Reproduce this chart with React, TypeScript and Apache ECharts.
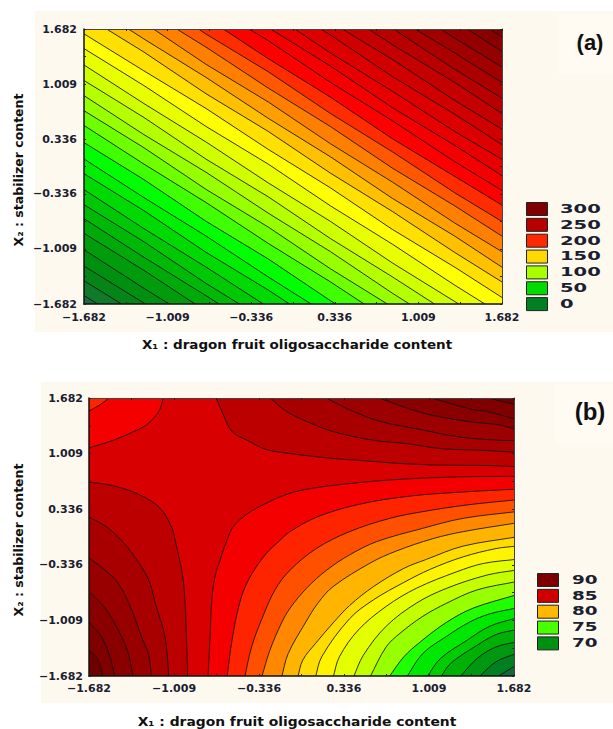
import React, { useEffect, useRef } from "react";
import * as echarts from "echarts";

const tickValues = [-1.682, -1.009, -0.336, 0.336, 1.009, 1.682];
const tickLabels = ["\u22121.682", "\u22121.009", "\u22120.336", "0.336", "1.009", "1.682"];
const tickMarks = [-1.682, -1.3455, -1.009, -0.6725, -0.336, 0, 0.336, 0.6725, 1.009, 1.3455, 1.682];
const xTitle = "X\u2081 : dragon fruit oligosaccharide content";
const yTitle = "X\u2082 : stabilizer content";
const legendA = ["300", "250", "200", "150", "100", "50", "0"];
const legendB = ["90", "85", "80", "75", "70"];
const legendAColors = ["#800000", "#b80000", "#ff2800", "#ffd800", "#a8ff00", "#00dc00", "#008020"];
const legendBColors = ["#7c0000", "#d00000", "#ffb800", "#48ff00", "#009010"];

// Panel (a): X2 at these X1 stations, lowest contour first.
const aStations = [-1.69, -1.2, -0.7, -0.2, 0.3, 0.8, 1.3, 1.69];
const aContours = [
  [-1.57, -2.04],
  [-1.39, -1.85],
  [-1.21, -1.67, -2.17],
  [-1.01, -1.49, -1.96],
  [-0.81, -1.27, -1.77],
  [-0.63, -1.11, -1.58, -2.07],
  [-0.46, -0.92, -1.43, -1.9],
  [-0.275, -0.76, -1.23, -1.72],
  [-0.08, -0.54, -1.05, -1.51, -2.01],
  [0.1, -0.38, -0.85, -1.35, -1.83],
  [0.3, -0.16, -0.67, -1.13, -1.64, -2.12],
  [0.51, 0.03, -0.44, -0.94, -1.41, -1.91],
  [0.69, 0.23, -0.28, -0.74, -1.25, -1.72],
  [0.875, 0.39, -0.07, -0.57, -1.04, -1.55, -2.03],
  [1.06, 0.6, 0.09, -0.37, -0.88, -1.35, -1.84],
  [1.25, 0.77, 0.3, -0.2, -0.67, -1.18, -1.65, -2.02],
  [1.45, 0.99, 0.49, 0.03, -0.48, -0.95, -1.45, -1.82],
  [1.63, 1.17, 0.71, 0.21, -0.26, -0.77, -1.23, -1.61],
  [1.86, 1.4, 0.89, 0.43, -0.08, -0.55, -1.05, -1.42],
  [2.04, 1.56, 1.09, 0.59, 0.12, -0.39, -0.85, -1.24],
  [2.22, 1.76, 1.25, 0.79, 0.28, -0.19, -0.69, -1.05],
  [2.41, 1.93, 1.46, 0.96, 0.49, -0.02, -0.48, -0.86],
  [2.59, 2.13, 1.62, 1.16, 0.65, 0.18, -0.32, -0.68],
  [2.77, 2.29, 1.82, 1.32, 0.85, 0.34, -0.12, -0.48],
  [2.97, 2.51, 2.0, 1.54, 1.03, 0.56, 0.06, -0.3],
  [3.15, 2.67, 2.2, 1.7, 1.23, 0.72, 0.26, -0.12],
  [3.33, 2.87, 2.36, 1.9, 1.39, 0.92, 0.43, 0.08],
  [3.53, 3.05, 2.58, 2.08, 1.61, 1.1, 0.64, 0.26],
  [3.71, 3.25, 2.74, 2.28, 1.77, 1.31, 0.81, 0.45],
  [3.91, 3.43, 2.96, 2.46, 1.99, 1.49, 1.03, 0.64],
  [4.09, 3.63, 3.12, 2.66, 2.15, 1.69, 1.19, 0.83],
  [4.27, 3.79, 3.32, 2.83, 2.36, 1.85, 1.39, 1.02],
  [4.47, 4.01, 3.5, 3.04, 2.54, 2.07, 1.57, 1.21],
  [4.67, 4.19, 3.72, 3.22, 2.75, 2.24, 1.78, 1.4],
  [4.85, 4.39, 3.88, 3.42, 2.91, 2.44, 1.94, 1.58],
];
const aBaseColor = "#1b6a40";
const aColors = [
  "#0f7a2a", "#058518", "#009010", "#009c0c", "#00aa08", "#00b806", "#00c804", "#00da02", "#00ee00",
  "#00ff00", "#40ff00", "#70ff00", "#98ff00", "#b4ff00", "#d0ff00", "#e8ff00", "#ffff00",
  "#ffe000", "#ffc000", "#ffa000", "#ff8000", "#ff5800", "#ff2c00", "#ff0000",
  "#f40000", "#e80000", "#dc0000", "#d00000", "#c40000", "#b80000", "#ac0000", "#a00000", "#940000", "#880000", "#7c0000",
];

// Panel (b): saddle; each corner holds a nest of contours, outermost first.
const bBaseColor = "#d80000";
const bTopLeft = [
  [[-1.09, 1.7], [-1.13, 1.52], [-1.225, 1.36], [-1.33, 1.275], [-1.49, 1.17], [-1.7, 1.07]],
  [[-1.51, 1.7], [-1.595, 1.6], [-1.7, 1.51]],
];
const bTopLeftColors = ["#f40000", "#ff2400"];
const bBottomLeft = [
  [[-1.7, 0.67], [-1.49, 0.62], [-1.28, 0.51], [-1.12, 0.35], [-1.03, 0.125], [-1.0, -0.04], [-0.94, -0.48], [-0.92, -0.84], [-0.91, -1.25], [-0.9, -1.7]],
  [[-1.7, 0.25], [-1.57, 0.15], [-1.45, 0.0], [-1.32, -0.24], [-1.21, -0.52], [-1.15, -0.84], [-1.08, -1.21], [-1.05, -1.7]],
  [[-1.7, -0.23], [-1.556, -0.4], [-1.45, -0.56], [-1.345, -0.88], [-1.266, -1.21], [-1.213, -1.41], [-1.186, -1.7]],
  [[-1.7, -0.63], [-1.556, -0.86], [-1.45, -1.125], [-1.371, -1.41], [-1.331, -1.7]],
  [[-1.7, -1.0], [-1.582, -1.21], [-1.516, -1.45], [-1.477, -1.7]],
  [[-1.7, -1.34], [-1.608, -1.49], [-1.569, -1.7]],
];
const bBottomLeftColors = ["#bc0000", "#a80000", "#980000", "#8a0000", "#800000", "#700000"];
const bTopRight = [
  [[-0.68, 1.7], [-0.63, 1.52], [-0.55, 1.275], [-0.43, 1.17], [-0.28, 1.06], [-0.09, 1.01], [0.07, 0.98], [0.25, 0.95], [0.52, 0.92], [0.78, 0.89], [1.1, 0.87], [1.47, 0.865], [1.7, 0.85]],
  [[-0.26, 1.7], [-0.12, 1.52], [0.07, 1.38], [0.25, 1.275], [0.57, 1.17], [0.83, 1.13], [1.1, 1.07], [1.41, 1.05], [1.7, 1.025]],
  [[0.17, 1.7], [0.38, 1.54], [0.62, 1.4], [0.96, 1.295], [1.25, 1.21], [1.57, 1.17], [1.7, 1.165]],
  [[0.58, 1.7], [0.96, 1.5], [1.31, 1.4], [1.57, 1.355], [1.7, 1.3]],
  [[0.99, 1.7], [1.36, 1.54], [1.47, 1.52], [1.7, 1.42]],
  [[1.43, 1.7], [1.7, 1.6]],
];
const bTopRightColors = ["#bc0000", "#a80000", "#9c0000", "#8a0000", "#800000", "#700000"];
const bBottomRight = [
  [[-0.74, -1.7], [-0.725, -1.25], [-0.71, -0.76], [-0.685, -0.48], [-0.645, -0.28], [-0.59, -0.04], [-0.54, 0.125], [-0.42, 0.29], [-0.25, 0.43], [-0.09, 0.53], [0.07, 0.585], [0.28, 0.63], [0.7, 0.69], [1.18, 0.725], [1.7, 0.735]],
  [[-0.59, -1.7], [-0.55, -1.25], [-0.49, -0.8], [-0.42, -0.52], [-0.29, -0.22], [-0.17, -0.04], [-0.09, 0.065], [0.12, 0.24], [0.44, 0.39], [0.83, 0.49], [1.23, 0.54], [1.7, 0.58]],
  [[-0.45, -1.7], [-0.395, -1.33], [-0.316, -1.0], [-0.21, -0.64], [-0.09, -0.4], [0.12, -0.137], [0.38, 0.065], [0.7, 0.226], [0.96, 0.307], [1.31, 0.388], [1.7, 0.45]],
  [[-0.316, -1.7], [-0.25, -1.37], [-0.158, -1.04], [-0.09, -0.86], [0.04, -0.62], [0.2, -0.4], [0.38, -0.217], [0.595, -0.056], [0.96, 0.105], [1.28, 0.226], [1.7, 0.307]],
  [[-0.158, -1.7], [-0.105, -1.41], [0.03, -1.04], [0.13, -0.8], [0.25, -0.6], [0.55, -0.31], [0.75, -0.17], [1.04, -0.02], [1.28, 0.065], [1.7, 0.17]],
  [[-0.03, -1.7], [0.01, -1.49], [0.11, -1.29], [0.25, -1.04], [0.38, -0.83], [0.57, -0.6], [0.81, -0.38], [0.99, -0.27], [1.28, -0.11], [1.7, 0.0]],
  [[0.11, -1.7], [0.16, -1.45], [0.38, -0.99], [0.57, -0.76], [0.81, -0.55], [1.02, -0.39], [1.28, -0.24], [1.54, -0.14], [1.7, -0.11]],
  [[0.25, -1.7], [0.3, -1.45], [0.45, -1.125], [0.67, -0.84], [0.91, -0.62], [1.23, -0.42], [1.44, -0.32], [1.7, -0.27]],
  [[0.41, -1.7], [0.49, -1.43], [0.67, -1.08], [0.91, -0.8], [1.15, -0.62], [1.47, -0.46], [1.7, -0.4]],
  [[0.54, -1.7], [0.67, -1.33], [0.78, -1.165], [0.96, -0.96], [1.15, -0.8], [1.39, -0.64], [1.7, -0.54]],
  [[0.69, -1.7], [0.81, -1.45], [0.94, -1.27], [1.15, -1.03], [1.36, -0.86], [1.7, -0.7]],
  [[0.83, -1.7], [0.96, -1.41], [1.15, -1.2], [1.33, -1.03], [1.49, -0.93], [1.7, -0.86]],
  [[0.99, -1.7], [1.1, -1.47], [1.31, -1.25], [1.49, -1.08], [1.7, -0.98]],
  [[1.1, -1.7], [1.18, -1.53], [1.39, -1.31], [1.54, -1.18], [1.7, -1.12]],
  [[1.25, -1.7], [1.39, -1.47], [1.54, -1.33], [1.7, -1.27]],
  [[1.4, -1.7], [1.54, -1.51], [1.7, -1.41]],
  [[1.54, -1.7], [1.7, -1.55]],
];
const bBottomRightColors = [
  "#f40000", "#ff2400", "#ff5000", "#ff8800", "#ffb400", "#ffdc00", "#fff400", "#e4ff00", "#c4ff00",
  "#98ff00", "#20ff00", "#00e800", "#00cc00", "#00b004", "#009810", "#008020", "#106a3a",
];

const FONT = "'DejaVu Sans'";
const INK = "#1a2030";
const CORNER = 2.0;

type Layer = { curve: number[][]; corners: number[][]; color: string };

function beyond(a: number[], b: number[]) {
  return [2 * a[0] - b[0], 2 * a[1] - b[1]];
}

function contourSeries(layers: Layer[], axis: number, smooth: number) {
  return {
    type: "custom",
    xAxisIndex: axis,
    yAxisIndex: axis,
    clip: true,
    silent: true,
    z: 2,
    data: layers.map((l) => l.curve[0]),
    encode: { x: 0, y: 1 },
    renderItem: (params: any, api: any) => {
      const l = layers[params.dataIndex];
      const pts = l.curve.map((p) => api.coord(p));
      const n = pts.length;
      // Carry the contour past the plot edge, so the fill and the line bend alike inside the clip.
      const line = [beyond(pts[0], pts[1]), ...pts, beyond(pts[n - 1], pts[n - 2])];
      const ring = line.concat(l.corners.map((p) => api.coord(p)));
      return {
        type: "group",
        children: [
          { type: "polygon", shape: { points: ring, smooth }, style: { fill: l.color, stroke: "none" } },
          { type: "polyline", shape: { points: line, smooth }, style: { fill: "none", stroke: "#101010", lineWidth: 1, opacity: 0.85 } },
        ],
      };
    },
  };
}

function nest(curves: number[][][], colors: string[], corners: number[][]): Layer[] {
  return curves.map((curve, i) => ({ curve, color: colors[i], corners }));
}

const formatTick = (v: number) => tickLabels[tickValues.indexOf(v)] ?? "";

function axisPair(grid: number, kind: "x" | "y", margin: number) {
  const base = {
    type: "value",
    gridIndex: grid,
    min: -1.682,
    max: 1.682,
    z: 5,
    splitLine: { show: false },
    axisTick: { show: true, inside: true, length: 2, customValues: tickMarks, lineStyle: { color: "#222", width: 1 } },
  };
  const main = {
    ...base,
    position: kind === "x" ? "bottom" : "left",
    axisLine: { show: true, onZero: false, lineStyle: { color: "#111", width: 1.5 } },
    axisLabel: {
      show: true,
      customValues: tickValues,
      formatter: formatTick,
      margin,
      fontFamily: FONT,
      fontWeight: "bold",
      fontSize: 11,
      color: INK,
    },
  };
  const mirror = {
    ...base,
    position: kind === "x" ? "top" : "right",
    axisLine: { show: true, onZero: false, lineStyle: { color: "#444", width: 1 } },
    axisLabel: { show: false },
  };
  return [main, mirror];
}

function rect(x: number, y: number, w: number, h: number, fill: string, z = -5) {
  return { type: "rect", z, silent: true, shape: { x, y, width: w, height: h }, style: { fill } };
}

function legend(labels: string[], colors: string[], x: number, top: number, textX: number, sx: number) {
  const out: any[] = [];
  labels.forEach((t, i) => {
    const y = top + i * 15.85;
    out.push({
      type: "rect",
      z: 10,
      shape: { x: x + 0.5, y: y + 0.5, width: 21, height: 13 },
      style: { fill: colors[i], stroke: "#222", lineWidth: 1 },
    });
    out.push({
      type: "text",
      z: 10,
      x: textX,
      y: y + 7,
      scaleX: sx,
      style: { text: t, fontFamily: FONT, fontWeight: "bold", fontSize: 11.5, fill: INK, textAlign: "left", textVerticalAlign: "middle" },
    });
  });
  return out;
}

function label(text: string, x: number, y: number, size: number, rotation = 0, font = FONT, scaleX = 1) {
  return {
    type: "text",
    z: 10,
    x,
    y,
    rotation,
    scaleX,
    style: { text, fontFamily: font, fontWeight: "bold", fontSize: size, fill: "#101010", textAlign: "center", textVerticalAlign: "middle" },
  };
}

export default function App() {
  const ref = useRef<HTMLDivElement>(null);
  useEffect(() => {
    const chart = echarts.init(ref.current!, null, { renderer: "svg" });
    const aLayers: Layer[] = aContours.map((row, i) => ({
      curve: row.map((y, j) => [aStations[j], y]),
      color: aColors[i],
      corners: [[CORNER, -CORNER], [CORNER, CORNER], [-CORNER, CORNER]],
    }));
    const bLayers: Layer[] = [
      ...nest(bTopLeft, bTopLeftColors, [[-CORNER, CORNER]]),
      ...nest(bBottomLeft, bBottomLeftColors, [[-CORNER, -CORNER]]),
      ...nest(bTopRight, bTopRightColors, [[CORNER, CORNER]]),
      ...nest(bBottomRight, bBottomRightColors, [[CORNER, -CORNER]]),
    ];
    const xA = axisPair(0, "x", 8);
    const xB = axisPair(1, "x", 7);
    const yA = axisPair(0, "y", 7);
    const yB = axisPair(1, "y", 6);
    chart.setOption({
      animation: false,
      backgroundColor: "#ffffff",
      grid: [
        { left: 84, top: 29, width: 418, height: 275, show: true, backgroundColor: aBaseColor, borderWidth: 0, z: 1 },
        { left: 89, top: 398, width: 425, height: 278, show: true, backgroundColor: bBaseColor, borderWidth: 0, z: 1 },
      ],
      xAxis: [xA[0], xB[0], { ...xA[1] }, { ...xB[1] }],
      yAxis: [yA[0], yB[0], { ...yA[1] }, { ...yB[1] }],
      series: [contourSeries(aLayers, 0, 0), contourSeries(bLayers, 1, 0.35)],
      graphic: {
        elements: [
          rect(35, 11, 578, 321, "#fef9ef"),
          rect(41, 382, 572, 321, "#fef9ef"),
          rect(558, 14, 55, 60, "#fffbf3", -4),
          rect(555, 384, 58, 60, "#fffbf3", -4),
          label("(a)", 590, 42, 22, 0, "'Liberation Sans'"),
          label("(b)", 590, 411, 24, 0, "'Liberation Sans'"),
          label(xTitle, 297, 345, 12.5, 0, FONT, 1.08),
          label(xTitle, 297, 722, 12.5, 0, FONT, 1.11),
          label(yTitle, 18, 170, 12.5, Math.PI / 2),
          label(yTitle, 18, 540, 12.5, Math.PI / 2),
          ...legend(legendA, legendAColors, 526, 202, 560, 1.7),
          ...legend(legendB, legendBColors, 537, 573, 572, 1.6),
        ],
      },
    });
    return () => chart.dispose();
  }, []);
  return <div ref={ref} style={{ position: "absolute", left: 0, top: 0, width: 613, height: 729 }} />;
}
